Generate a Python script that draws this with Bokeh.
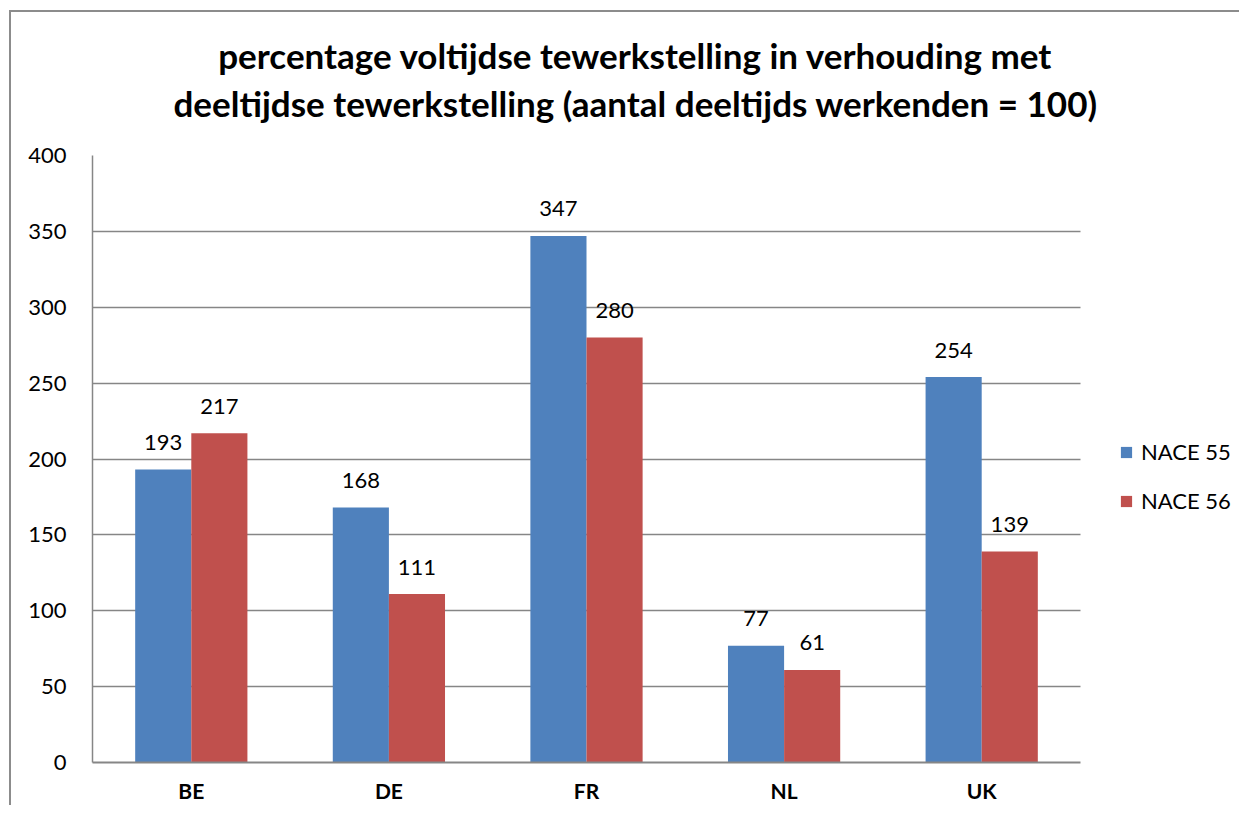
from bokeh.plotting import figure
from bokeh.models import (ColumnDataSource, Range1d, Title, Legend, LegendItem, FixedTicker)
from bokeh.core.properties import value
from bokeh.embed import file_html
from bokeh.resources import INLINE

countries = ["BE", "DE", "FR", "NL", "UK"]
nace55 = [193, 168, 347, 77, 254]
nace56 = [217, 111, 280, 61, 139]
series_names = ["NACE 55", "NACE 56"]
title_lines = ["percentage voltijdse tewerkstelling in verhouding met",
               "deeltijdse tewerkstelling (aantal deeltijds werkenden = 100)"]
y_ticks = [0, 50, 100, 150, 200, 250, 300, 350, 400]

BLUE = "#4F81BD"
RED = "#C0504D"
GRAY = "#868686"
FONT = "Lato"

n = len(countries)
xc = [i + 0.5 for i in range(n)]          # category centres
bw = 0.284                                 # bar width (category = 1)
src = ColumnDataSource(dict(xa=[x - bw / 2 for x in xc], xb=[x + bw / 2 for x in xc],
                            a=nace55, b=nace56,
                            la=[str(v) for v in nace55], lb=[str(v) for v in nace56]))

FRAME_W = 1147           # frame runs under the legend; categories use the first 988 px
x_end = n * FRAME_W / 988

p = figure(x_range=Range1d(0, x_end), y_range=Range1d(0, 400),
           frame_width=FRAME_W, frame_height=607, output_backend="svg", toolbar_location=None,
           min_border_left=92, min_border_right=0, min_border_top=155, min_border_bottom=43)
p.border_fill_color = None
p.background_fill_color = "white"
p.outline_line_color = None
p.styles = {
    "background": ("linear-gradient(#8c8c8c,#8c8c8c) 9px 10px / 2px 100% no-repeat, "
                   "linear-gradient(#8c8c8c,#8c8c8c) 9px 10px / 100% 2px no-repeat, white"),
}

# horizontal grid lines limited to the category area
p.xgrid.grid_line_color = None
try:
    p.ygrid.cross_bounds = (0, n)
    p.ygrid.grid_line_color = GRAY
    p.ygrid.grid_line_width = 1.3
except Exception:
    p.ygrid.grid_line_color = None
    p.segment(x0=0, x1=n, y0=y_ticks[1:], y1=y_ticks[1:], line_color=GRAY, line_width=1.3)

ra = p.vbar(x="xa", top="a", width=bw, source=src, fill_color=BLUE, line_color=None)
rb = p.vbar(x="xb", top="b", width=bw, source=src, fill_color=RED, line_color=None)

for xcol, col, lab in (("xa", "a", "la"), ("xb", "b", "lb")):
    p.text(x=xcol, y=col, text=lab, source=src,
           text_align="center", text_baseline="alphabetic", y_offset=-27,
           text_font=value(FONT), text_font_size="22px", text_color="black")

p.title = None
p.add_layout(Title(text="\n".join(title_lines), align="left", offset=81, standoff=63,
                   text_align="center", text_font=FONT, text_font_size="35px",
                   text_font_style="bold", text_color="black", text_line_height=1.14), "above")

p.yaxis.ticker = FixedTicker(ticks=y_ticks)
p.yaxis.major_tick_line_color = None
p.yaxis.minor_tick_line_color = None
p.yaxis.major_tick_out = 0
p.yaxis.major_tick_in = 0
p.yaxis.axis_line_color = GRAY
p.yaxis.axis_line_width = 1.5
p.yaxis.major_label_standoff = 26
p.yaxis.major_label_text_font = FONT
p.yaxis.major_label_text_font_size = "22px"
p.yaxis.major_label_text_color = "black"

p.xaxis.ticker = FixedTicker(ticks=xc)
p.xaxis.major_label_overrides = {x: c for x, c in zip(xc, countries)}
p.xaxis.bounds = (0, n)
p.xaxis.major_tick_line_color = None
p.xaxis.minor_tick_line_color = None
p.xaxis.major_tick_out = 0
p.xaxis.major_tick_in = 0
p.xaxis.axis_line_color = GRAY
p.xaxis.axis_line_width = 2
p.xaxis.major_label_standoff = 15
p.xaxis.major_label_text_font = FONT
p.xaxis.major_label_text_font_size = "21px"
p.xaxis.major_label_text_font_style = "bold"
p.xaxis.major_label_text_color = "black"

legend = Legend(items=[LegendItem(label=series_names[0], renderers=[ra]),
                       LegendItem(label=series_names[1], renderers=[rb])],
                location=(1027, 248), orientation="vertical",
                glyph_width=14, glyph_height=14, label_standoff=8, spacing=22, label_height=26,
                padding=0, margin=0, border_line_color=None, background_fill_alpha=0,
                label_text_font=FONT, label_text_font_size="22px", label_text_color="black")
p.add_layout(legend, "center")

open("out.html", "w").write(file_html(p, INLINE))
